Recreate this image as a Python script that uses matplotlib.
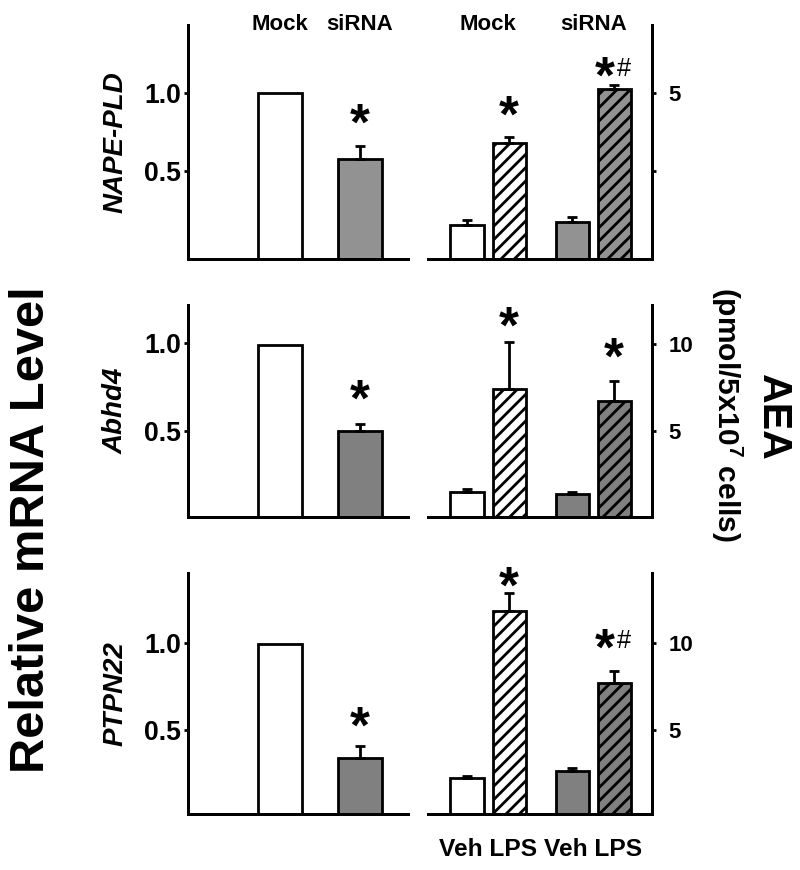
import numpy as np
import matplotlib
matplotlib.use('Agg')
import matplotlib.pyplot as plt

plt.rcParams['font.family'] = ['Liberation Sans', 'DejaVu Sans']
plt.rcParams['font.weight'] = 'bold'
plt.rcParams['mathtext.fontset'] = 'custom'
plt.rcParams['mathtext.rm'] = 'Liberation Sans:bold'
plt.rcParams['mathtext.bf'] = 'Liberation Sans:bold'
plt.rcParams['hatch.linewidth'] = 2.5

# ---- data ----
genes = ['NAPE-PLD', 'Abhd4', 'PTPN22']
mrna_groups = ['Mock', 'siRNA']
mrna_vals = [[1.00, 0.58], [0.99, 0.50], [0.99, 0.34]]
mrna_err = [[0.0, 0.08], [0.0, 0.04], [0.0, 0.07]]
mrna_sig = [['', '*'], ['', '*'], ['', '*']]

aea_groups = ['Mock', 'siRNA']
aea_treat = ['Veh LPS', 'Veh LPS']
aea_vals = [[0.77, 3.39, 0.88, 5.12],
            [1.53, 7.40, 1.40, 6.71],
            [2.24, 11.84, 2.66, 7.67]]
aea_err = [[0.16, 0.19, 0.14, 0.14],
           [0.14, 2.75, 0.08, 1.17],
           [0.12, 1.00, 0.17, 0.72]]
aea_sig = [['', '*', '', '*#'], ['', '*', '', '*'], ['', '*', '', '*#']]

mrna_ylim = [(-0.064, 1.436), (0.011, 1.216), (0.017, 1.40)]
mrna_ticks = [0.5, 1.0]
aea_ylim = [(-0.32, 7.18), (0.07, 12.25), (0.17, 14.0)]
aea_ticks = [[2.5, 5], [5, 10], [5, 10]]
aea_ticklabels = [['', '5'], ['5', '10'], ['5', '10']]

# ---- styles ----
grey = ['#929292', '#808080', '#808080']
aea_fill = ['white', 'white', None, None]
aea_hatch = [None, '//', None, '//']
gap_left = [29, 31, 26]                     # px between error top and star centre
gap_right = [[0, 29, 0, 15], [0, 22, 0, 30], [0, 14, 0, 29]]

W, H = 800, 870
fig = plt.figure(figsize=(10, 10.875), dpi=80)

rows_y = [(25, 259), (305, 517), (573, 814)]
left_x = (188, 408)
right_x = (428, 652)


def add_ax(xr, yr):
    return fig.add_axes([xr[0] / W, 1 - yr[1] / H, (xr[1] - xr[0]) / W, (yr[1] - yr[0]) / H])


def star(ax, x, ytop, sig, gap):
    # star centre sits gap px above ytop; asterisk glyph centre ~0.45 em above baseline
    fs = 46
    c = gap * 0.9
    if not sig:
        return
    if '#' in sig:
        ax.annotate('*', (x, ytop), xytext=(-9 * 0.9, c - 0.45 * fs), textcoords='offset points',
                    ha='center', va='baseline', fontsize=fs)
        ax.annotate('#', (x, ytop), xytext=(10 * 0.9, c - 0.36 * 23 + 3), textcoords='offset points',
                    ha='center', va='baseline', fontsize=23, fontweight='normal')
    else:
        ax.annotate('*', (x, ytop), xytext=(0, c - 0.45 * fs), textcoords='offset points',
                    ha='center', va='baseline', fontsize=fs)


for r in range(3):
    # left panel: relative mRNA
    ax = add_ax(left_x, rows_y[r])
    xl = np.arange(len(mrna_groups))
    lo, hi = mrna_ylim[r]
    v = np.array(mrna_vals[r])
    e = np.array(mrna_err[r])
    ax.bar(xl, v - lo, bottom=lo, width=0.55, color=['white', grey[r]],
           edgecolor='black', linewidth=2.5, zorder=2)
    m = e > 0
    ax.errorbar(xl[m], v[m], yerr=[np.zeros(m.sum()), e[m]], fmt='none', ecolor='black',
                elinewidth=2.5, capsize=4.5, capthick=2.5, zorder=3)
    for i in range(len(xl)):
        star(ax, xl[i], v[i] + e[i], mrna_sig[r][i], gap_left[r])
    ax.set_xlim(-1.15, 1.6)
    ax.set_ylim(lo, hi)
    ax.set_yticks(mrna_ticks)
    ax.set_yticklabels(['0.5', '1.0'])
    ax.set_xticks([])
    for s in ['top', 'right']:
        ax.spines[s].set_visible(False)
    for s in ['left', 'bottom']:
        ax.spines[s].set_linewidth(2.7)
    ax.tick_params(axis='y', direction='out', length=4, width=2.5, labelsize=24, pad=2)
    ax.text((116 - 188) / 220, 0.5, genes[r], transform=ax.transAxes, rotation=90,
            ha='center', va='center', fontsize=25, fontstyle='italic')
    if r == 0:
        for i, g in enumerate(mrna_groups):
            ax.text(xl[i], 1.0, g, transform=ax.get_xaxis_transform(), ha='center',
                    va='center', fontsize=20)

    # right panel: AEA
    ax = add_ax(right_x, rows_y[r])
    xr = np.array([0, 1, 2.5, 3.5])
    lo, hi = aea_ylim[r]
    v = np.array(aea_vals[r])
    e = np.array(aea_err[r])
    fills = [c if c else grey[r] for c in aea_fill]
    for i in range(4):
        ax.bar(xr[i], v[i] - lo, bottom=lo, width=0.79, color=fills[i], edgecolor='black',
               linewidth=2.5, hatch=aea_hatch[i], zorder=2)
    ax.errorbar(xr, v, yerr=[np.zeros(4), e], fmt='none', ecolor='black',
                elinewidth=2.5, capsize=4.5, capthick=2.5, zorder=3)
    for i in range(4):
        star(ax, xr[i], v[i] + e[i], aea_sig[r][i], gap_right[r][i])
    ax.set_xlim(-0.93, 4.4)
    ax.set_ylim(lo, hi)
    ax.yaxis.tick_right()
    ax.set_yticks(aea_ticks[r])
    ax.set_yticklabels(aea_ticklabels[r])
    for s in ['top', 'left']:
        ax.spines[s].set_visible(False)
    for s in ['right', 'bottom']:
        ax.spines[s].set_linewidth(2.7)
    ax.tick_params(axis='y', direction='out', length=4, width=2.5, labelsize=20, pad=11)
    centres = [xr[0:2].mean(), xr[2:4].mean()]
    if r == 0:
        for k, g in enumerate(aea_groups):
            ax.text(centres[k], 1.0, g, transform=ax.get_xaxis_transform(),
                    ha='center', va='center', fontsize=20)
    if r == 2:
        ax.set_xticks(centres)
        ax.set_xticklabels(aea_treat)
        ax.tick_params(axis='x', length=0, labelsize=22, pad=22)
    else:
        ax.set_xticks([])

fig.text(32 / W, 1 - 530 / H, 'Relative mRNA Level', rotation=90, ha='center', va='center',
         fontsize=44)
fig.text(773 / W, 1 - 417 / H, 'AEA', rotation=270, ha='center', va='center', fontsize=37)
fig.text(727 / W, 1 - 415 / H, r'(pmol/5x10$^{\mathbf{7}}$ cells)', rotation=270,
         ha='center', va='center', fontsize=27)

fig.savefig('out.png', dpi=80)
